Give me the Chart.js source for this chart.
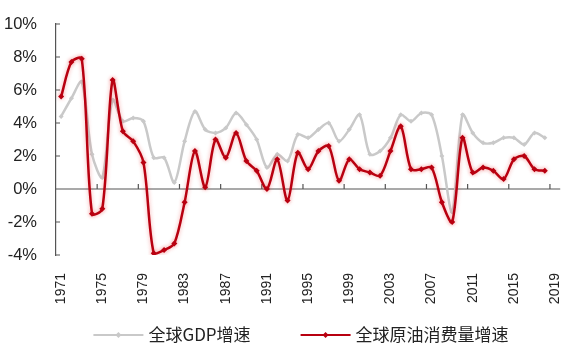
<!DOCTYPE html>
<html>
<head>
<meta charset="utf-8">
<script src="https://cdn.jsdelivr.net/npm/chart.js@4.4.1/dist/chart.umd.min.js"></script>
<style>
  html, body { margin: 0; padding: 0; background: #ffffff; }
  #wrap { width: 582px; height: 351px; position: relative; }
</style>
</head>
<body>
<div id="wrap"><canvas id="myChart"></canvas></div>
<script>
// years on the axis (2019 is only a label, no data)
const years = [];
for (let y = 1971; y <= 2019; y++) years.push(String(y));

const seriesNames = ["全球GDP增速", "全球原油消费量增速"];

// global GDP growth, %
const gdpGrowth = [4.4, 5.5, 6.5, 2.1, 0.7, 5.4, 4.1, 4.3, 4.1, 1.9,
                   1.9, 0.4, 2.9, 4.7, 3.6, 3.4, 3.7, 4.6, 3.9, 3.0,
                   1.3, 2.1, 1.7, 3.3, 3.1, 3.6, 4.0, 2.9, 3.6, 4.5,
                   2.1, 2.3, 3.1, 4.5, 4.1, 4.6, 4.5, 2.0, -1.4, 4.5,
                   3.4, 2.8, 2.8, 3.1, 3.1, 2.7, 3.4, 3.1, null];

// global crude oil consumption growth, %
const oilGrowth = [5.6, 7.7, 7.9, -1.5, -1.2, 6.6, 3.5, 2.9, 1.6, -3.9,
                   -3.7, -3.3, -0.8, 2.3, 0.1, 3.0, 1.9, 3.4, 1.7, 1.1,
                   0.0, 1.8, -0.7, 2.2, 1.2, 2.3, 2.6, 0.5, 1.8, 1.2,
                   1.0, 0.8, 2.3, 3.8, 1.2, 1.2, 1.3, -0.8, -2.0, 3.1,
                   1.0, 1.3, 1.1, 0.6, 1.8, 2.0, 1.2, 1.1, null];

const yTicks = [-4, -2, 0, 2, 4, 6, 8, 10];

const gray = "#c9c9c9";
const red = "#b80010";

// axis line at 0 with upward ticks, inward y ticks
const axisDeco = {
    id: "axisDeco",
    beforeDatasetsDraw(chart) {
        const ctx = chart.ctx, x = chart.scales.x, y = chart.scales.y, a = chart.chartArea;
        const y0 = y.getPixelForValue(0);
        ctx.save();
        ctx.strokeStyle = "#555555";
        ctx.lineWidth = 1.2;
        ctx.beginPath();
        ctx.moveTo(a.left, y0); ctx.lineTo(a.right, y0);
        for (let k = 4; k < years.length; k += 4) {
            const px = (x.getPixelForValue(k - 1) + x.getPixelForValue(k)) / 2;
            ctx.moveTo(px, y0); ctx.lineTo(px, y0 - 5);
        }
        yTicks.forEach(v => {
            const py = y.getPixelForValue(v);
            ctx.moveTo(a.left, py); ctx.lineTo(a.left + 4, py);
        });
        ctx.stroke();
        ctx.restore();
    },
    // soft glow under the red line
    beforeDatasetDraw(chart, args) {
        if (args.index === 1) {
            chart.ctx.save();
            chart.ctx.shadowColor = "rgba(230,40,40,0.4)";
            chart.ctx.shadowBlur = 4;
        }
    },
    afterDatasetDraw(chart, args) {
        if (args.index === 1) chart.ctx.restore();
    }
};

// legend drawn by hand: line with a diamond, then the name
const lineLegend = {
    id: "lineLegend",
    afterDraw(chart) {
        const ctx = chart.ctx;
        const ds = chart.data.datasets;
        const lineLen = 50, gapText = 5, gapItem = 50, cy = 335;
        ctx.save();
        ctx.font = "17px 'Noto Sans CJK SC', 'Liberation Sans', sans-serif";
        const widths = ds.map(d => ctx.measureText(d.label).width);
        let total = 0;
        widths.forEach((w, i) => { total += lineLen + gapText + w + (i ? gapItem : 0); });
        let x = chart.width / 2 + 10 - total / 2;
        ds.forEach((d, i) => {
            ctx.strokeStyle = d.borderColor;
            ctx.fillStyle = d.borderColor;
            ctx.lineWidth = 2;
            ctx.beginPath(); ctx.moveTo(x, cy); ctx.lineTo(x + lineLen, cy); ctx.stroke();
            const mx = x + lineLen / 2, s = 3;
            ctx.beginPath(); ctx.moveTo(mx, cy - s); ctx.lineTo(mx + s, cy); ctx.lineTo(mx, cy + s); ctx.lineTo(mx - s, cy); ctx.closePath(); ctx.fill();
            ctx.fillStyle = "#222222";
            ctx.textBaseline = "middle";
            ctx.textAlign = "left";
            ctx.fillText(d.label, x + lineLen + gapText, cy);
            x += lineLen + gapText + widths[i] + gapItem;
        });
        ctx.restore();
    }
};

const ctx = document.getElementById("myChart").getContext("2d");
const myChart = new Chart(ctx, {
    type: "line",
    data: {
        labels: years,
        datasets: [
            {
                label: seriesNames[0],
                data: gdpGrowth,
                borderColor: gray,
                backgroundColor: gray,
                borderWidth: 2.5,
                pointStyle: "rectRot",
                pointRadius: 2.5,
                pointBorderWidth: 0,
                tension: 0.3,
                order: 2
            },
            {
                label: seriesNames[1],
                data: oilGrowth,
                borderColor: red,
                backgroundColor: red,
                borderWidth: 2.5,
                pointStyle: "rectRot",
                pointRadius: 3,
                pointBorderWidth: 0,
                tension: 0.3,
                order: 1
            }
        ]
    },
    options: {
        responsive: true,
        maintainAspectRatio: false,
        animation: false,
        layout: { padding: { top: 24, right: 11, left: 0, bottom: 44 } },
        plugins: {
            tooltip: { enabled: false },
            legend: { display: false }
        },
        scales: {
            x: {
                type: "category",
                offset: true,
                grid: { display: false, offset: true },
                border: { display: false },
                ticks: {
                    autoSkip: false,
                    maxRotation: 90,
                    minRotation: 90,
                    padding: 10,
                    color: "#222222",
                    font: { family: "'Liberation Sans', Arial, sans-serif", size: 14 },
                    callback: function (val, i) { return i % 4 === 0 ? this.getLabelForValue(val) : ""; }
                },
                afterFit: s => { s.height = 52; }
            },
            y: {
                min: -4,
                max: 10,
                afterBuildTicks: s => { s.ticks = yTicks.map(v => ({ value: v })); },
                grid: { display: false },
                border: { display: true, color: "#555555", width: 1.2 },
                ticks: {
                    padding: 11,
                    color: "#222222",
                    font: { family: "'Liberation Sans', Arial, sans-serif", size: 16.5 },
                    callback: v => v + "%"
                },
                afterFit: s => { s.width = 56; }
            }
        }
    },
    plugins: [axisDeco, lineLegend]
});
</script>
</body>
</html>
